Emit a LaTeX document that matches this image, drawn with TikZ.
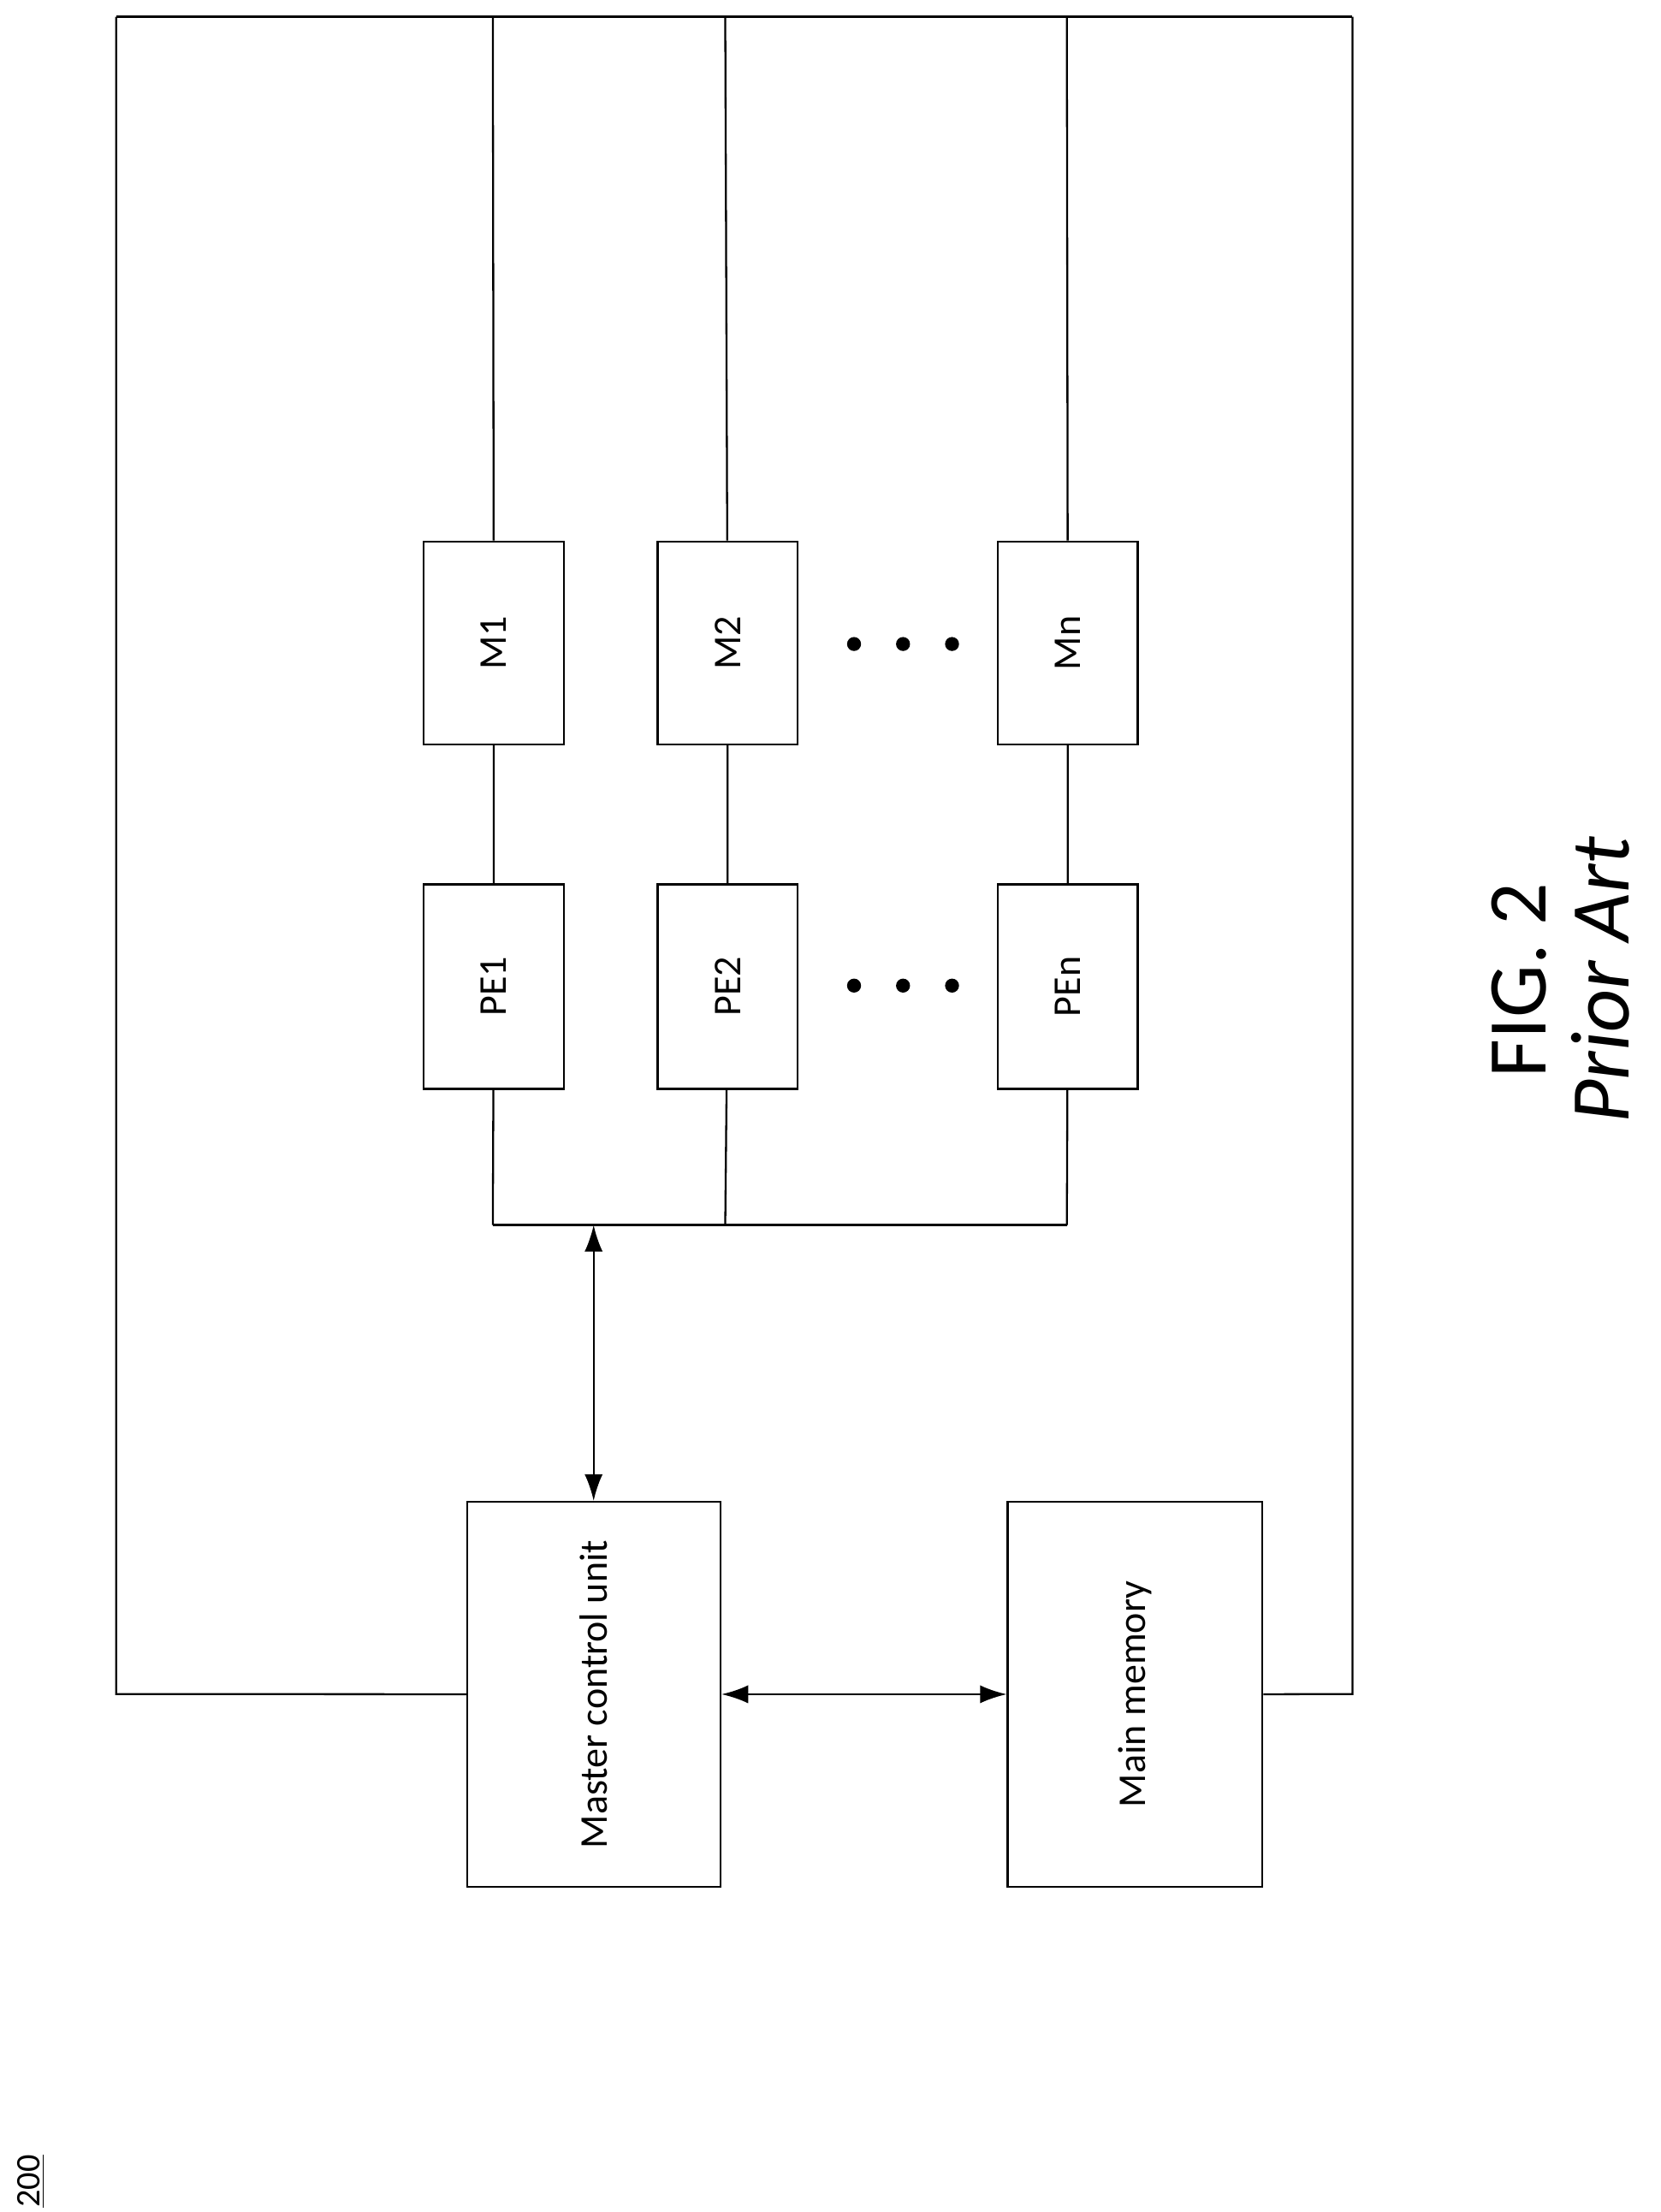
\documentclass[tikz,border=0pt]{standalone}
\usepackage{fontspec}
\setmainfont{Carlito}
\usetikzlibrary{arrows.meta,positioning,calc}

\begin{document}
\begin{tikzpicture}[x=0.02cm,y=-0.02cm,>={Latex[length=0.38cm,width=0.26cm]},thick,
box/.style={draw=black, thick, anchor=north west, inner sep=0pt},
lbl/.style={rotate=90, font=\fontsize{16}{18}\selectfont},
dot/.style={circle, fill=black, inner sep=0pt, minimum size=0.2cm},
]
\useasboundingbox (0,0) rectangle (1186,1580);

% memories and processing elements
\node[box, minimum width=2cm, minimum height=2.9cm] (m1) at (302,386) {};
\node[box, minimum width=2cm, minimum height=2.9cm] (m2) at (469,386) {};
\node[box, minimum width=2cm, minimum height=2.9cm] (mn) at (712,386) {};
\node[box, minimum width=2cm, minimum height=2.92cm] (pe1) at (302,631) {};
\node[box, minimum width=2cm, minimum height=2.92cm] (pe2) at (469,631) {};
\node[box, minimum width=2cm, minimum height=2.92cm] (pen) at (712,631) {};
\node[lbl] at (m1.center) {M1};
\node[lbl] at (m2.center) {M2};
\node[lbl] at (mn.center) {Mn};
\node[lbl] at (pe1.center) {PE1};
\node[lbl] at (pe2.center) {PE2};
\node[lbl] at (pen.center) {PEn};

\node[box, minimum width=3.62cm, minimum height=5.5cm] (mcu) at (333,1072) {};
\node[box, minimum width=3.64cm, minimum height=5.5cm] (mem) at (719,1072) {};
\node[lbl] at (mcu.center) {Master control unit};
\node[lbl] at (mem.center) {Main memory};

% dots
\foreach \x in {610,645,680} {
  \node[dot] (da\x) at (\x,460) {};
  \node[dot] (db\x) at (\x,704) {};
}

% bus
\coordinate (t1) at (352,12);
\coordinate (t2) at (518,12);
\coordinate (tn) at (762,12);
\coordinate (b1) at (352,875);
\coordinate (b2) at (518,875);
\coordinate (bn) at (762,875);
\coordinate (bus) at (424,875);
\coordinate (tl) at (83,12);
\coordinate (tr) at (966,12);
\coordinate (bl) at (83,1210);
\coordinate (br) at (966,1210);

\draw (t1) -- (m1) -- (pe1) -- (b1);
\draw (t2) -- (m2) -- (pe2) -- (b2);
\draw (tn) -- (mn) -- (pen) -- (bn);
\draw (b1) -- (bn);
\draw (tl) -- (tr);
\draw (mcu.west) -- (bl) -- (tl);
\draw (mem.east) -- (br) -- (tr);

\draw[<->] (bus) -- (bus |- mcu.north);
\draw[<->] (mcu.east) -- (mem.west);

% caption
\node[rotate=90, font=\fontsize{34}{36}\selectfont] (fig) at (1085,700) {FIG. 2};
\node[rotate=90, font=\fontsize{34}{36}\selectfont\itshape] (prior) at (1143,700) {Prior Art};
\node[rotate=90, font=\fontsize{14}{16}\selectfont] (num) at (22,1558) {\underline{200}};
\end{tikzpicture}
\end{document}
